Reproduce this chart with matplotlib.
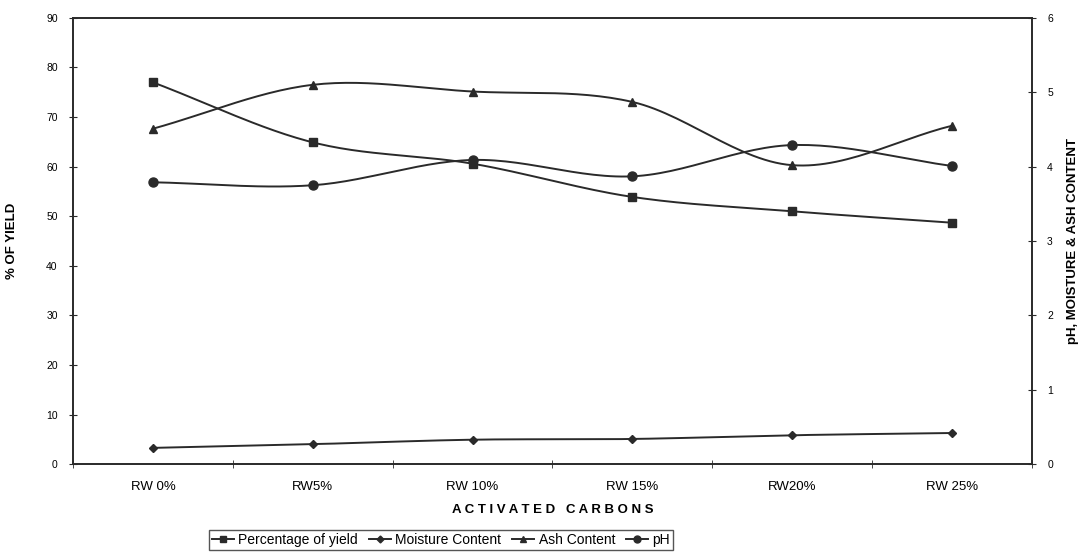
import numpy as np
import matplotlib
matplotlib.use("Agg")
import matplotlib.pyplot as plt
from matplotlib.lines import Line2D

plt.rcParams['font.family'] = ['Liberation Sans', 'DejaVu Sans']

carbons = ["RW 0%", "RW5%", "RW 10%", "RW 15%", "RW20%", "RW 25%"]
yield_pct = [77.0, 64.9, 60.6, 53.9, 51.0, 48.7]
moisture = [0.22, 0.27, 0.33, 0.34, 0.39, 0.42]
ash = [4.51, 5.10, 5.01, 4.87, 4.02, 4.55]
ph = [3.79, 3.75, 4.09, 3.87, 4.29, 4.01]


def smooth(y, n=30):
    # Catmull-Rom style smoothing, like the spreadsheet "smoothed line"
    y = np.asarray(y, float)
    x = np.arange(len(y), dtype=float)
    px = np.concatenate([[2 * x[0] - x[1]], x, [2 * x[-1] - x[-2]]])
    py = np.concatenate([[2 * y[0] - y[1]], y, [2 * y[-1] - y[-2]]])
    xs, ys = [], []
    for i in range(1, len(px) - 2):
        t = np.linspace(0, 1, n)
        for arr, out in ((px, xs), (py, ys)):
            p0, p1, p2, p3 = arr[i - 1], arr[i], arr[i + 1], arr[i + 2]
            out.append(0.5 * ((2 * p1) + (-p0 + p2) * t
                              + (2 * p0 - 5 * p1 + 4 * p2 - p3) * t ** 2
                              + (-p0 + 3 * p1 - 3 * p2 + p3) * t ** 3))
    return np.concatenate(xs), np.concatenate(ys)


lc = "#2a2a2a"
fig = plt.figure(figsize=(10.78, 5.58), dpi=100)
ax = fig.add_axes([0.0677, 0.168, 0.8895, 0.800])
ax2 = ax.twinx()

x = np.arange(len(carbons))

sx, sy = smooth(yield_pct)
ax.plot(sx, sy, color=lc, lw=1.4)
ax.plot(x, yield_pct, ls="none", marker="s", ms=6, color=lc)

for vals, mk, ms in ((moisture, "D", 4), (ash, "^", 6), (ph, "o", 6.5)):
    sx, sy = smooth(vals)
    ax2.plot(sx, sy, color=lc, lw=1.4)
    ax2.plot(x, vals, ls="none", marker=mk, ms=ms, color=lc)

ax.set_xlim(-0.5, 5.5)
ax.set_ylim(0, 90)
ax2.set_ylim(0, 6)
ax.set_yticks(np.arange(0, 91, 10))
ax2.set_yticks(np.arange(0, 7, 1))
ax.set_xticks(x)
ax.set_xticklabels(carbons, fontsize=9.5)
ax.set_xticks(np.arange(-0.5, 6, 1), minor=True)
ax.tick_params(axis="x", which="major", length=0, pad=12)
ax.tick_params(axis="x", which="minor", direction="inout", length=6, color=lc)
ax.tick_params(axis="y", direction="inout", length=6, labelsize=7.5, pad=8, color=lc)
ax2.tick_params(axis="y", direction="inout", length=6, labelsize=7.5, pad=8, color=lc)

for a in (ax, ax2):
    for s in a.spines.values():
        s.set_color(lc)
        s.set_linewidth(1.2)

ax.set_xlabel("A C T I V A T E D   C A R B O N S", fontsize=9.5, fontweight="bold", labelpad=8)
ax.set_ylabel("% OF YIELD", fontsize=9.5, fontweight="bold")
ax2.set_ylabel("pH, MOISTURE & ASH CONTENT", fontsize=9.5, fontweight="bold")
ax.yaxis.set_label_coords(-0.057, 0.5)
ax2.yaxis.set_label_coords(1.037, 0.5)

handles = [
    Line2D([], [], color=lc, lw=1.4, marker="s", ms=5),
    Line2D([], [], color=lc, lw=1.4, marker="D", ms=3.5),
    Line2D([], [], color=lc, lw=1.4, marker="^", ms=5),
    Line2D([], [], color=lc, lw=1.4, marker="o", ms=5),
]
names = ["Percentage of yield", "Moisture Content", "Ash Content", "pH"]
leg = fig.legend(handles, names, ncol=4, loc="center", bbox_to_anchor=(0.409, 0.032),
                 fontsize=10, frameon=True, fancybox=False, handlelength=1.6,
                 handletextpad=0.3, columnspacing=0.8, borderpad=0.2)
leg.get_frame().set_edgecolor(lc)
leg.get_frame().set_linewidth(1.0)

fig.savefig("out.png", dpi=100)
